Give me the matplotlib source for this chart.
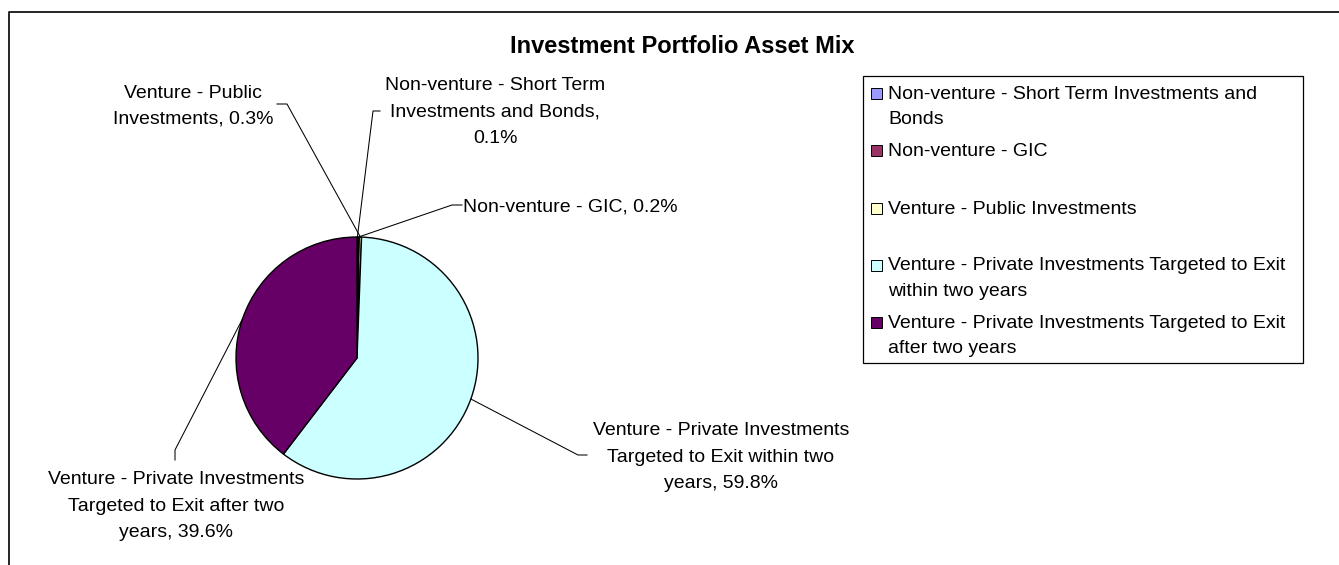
import numpy as np
import matplotlib.pyplot as plt
from matplotlib.lines import Line2D
from matplotlib.patches import Rectangle

plt.rcParams['font.family'] = ['Liberation Sans', 'DejaVu Sans']

# data
categories = ['Non-venture - Short Term Investments and Bonds',
              'Non-venture - GIC',
              'Venture - Public Investments',
              'Venture - Private Investments Targeted to Exit within two years',
              'Venture - Private Investments Targeted to Exit after two years']
shares = [0.1, 0.2, 0.3, 59.8, 39.6]
colors = ['#9999FF', '#993366', '#FFFFCC', '#CCFFFF', '#660066']
pie_names = ['Non-venture - Short Term\nInvestments and Bonds,\n',
             'Non-venture - GIC, ',
             'Venture - Public\nInvestments, ',
             'Venture - Private Investments\nTargeted to Exit within two\nyears, ',
             'Venture - Private Investments\nTargeted to Exit after two\nyears, ']
legend_names = ['Non-venture - Short Term Investments and\nBonds',
                'Non-venture - GIC',
                'Venture - Public Investments',
                'Venture - Private Investments Targeted to Exit\nwithin two years',
                'Venture - Private Investments Targeted to Exit\nafter two years']

W, H = 1339, 565
fig = plt.figure(figsize=(W / 100, H / 100), dpi=100)


def fx(x):
    return x / W


def fy(y):
    return 1 - y / H


def seg(pts, lw=0.75):
    fig.add_artist(Line2D([fx(p[0]) for p in pts], [fy(p[1]) for p in pts],
                          transform=fig.transFigure, color='black', lw=lw))


# outer chart frame (only top/left visible)
seg([(9, H + 5), (9, 12), (W + 5, 12)], lw=1.2)

fig.text(fx(682), fy(53), 'Investment Portfolio Asset Mix', ha='center',
         va='baseline', fontsize=17, fontweight='bold')

# pie
cx, cy, r = 357, 358, 121
ax = fig.add_axes([fx(cx - r), fy(cy + r), 2 * r / W, 2 * r / H])
wedges, _ = ax.pie(shares, colors=colors, startangle=90, counterclock=False,
                   wedgeprops=dict(edgecolor='black', linewidth=1.0))
ax.set_xlim(-1, 1)
ax.set_ylim(-1, 1)

# data labels with leader lines (y = baseline of last line)
lab_pos = [(495, 143, 'center'), (463, 212, 'left'), (193, 124, 'center'),
           (721, 488, 'center'), (176, 537, 'center')]
leaders = [[(373, 111), (380, 111)], [(452, 205), (462, 205)],
           [(287, 104), (277, 104)], [(578, 455), (587, 455)],
           [(175, 450), (175, 460)]]
LS = 1.72
for w, name, val, (tx, ty, ha), path in zip(wedges, pie_names, shares, lab_pos, leaders):
    ang = np.deg2rad((w.theta1 + w.theta2) / 2)
    start = (cx + r * np.cos(ang), cy - r * np.sin(ang))
    seg([start] + path)
    fig.text(fx(tx), fy(ty), f'{name}{val:.1f}%', ha=ha, va='baseline',
             multialignment='center', fontsize=14, linespacing=LS, color='black')

# legend
fig.add_artist(Rectangle((fx(863), fy(363)), (1303 - 863) / W, (363 - 76) / H,
                         transform=fig.transFigure, fill=False,
                         edgecolor='black', lw=0.9))
for i, (name, col) in enumerate(zip(legend_names, colors)):
    yb = 99 + i * 57.3
    nl = name.count('\n')
    fig.add_artist(Rectangle((fx(871), fy(yb)), 11 / W, 11 / H,
                             transform=fig.transFigure, facecolor=col,
                             edgecolor='black', lw=0.7))
    fig.text(fx(888), fy(yb + 25 * nl), name, ha='left', va='baseline',
             fontsize=14, linespacing=1.65)

fig.savefig('out.png', dpi=100)
